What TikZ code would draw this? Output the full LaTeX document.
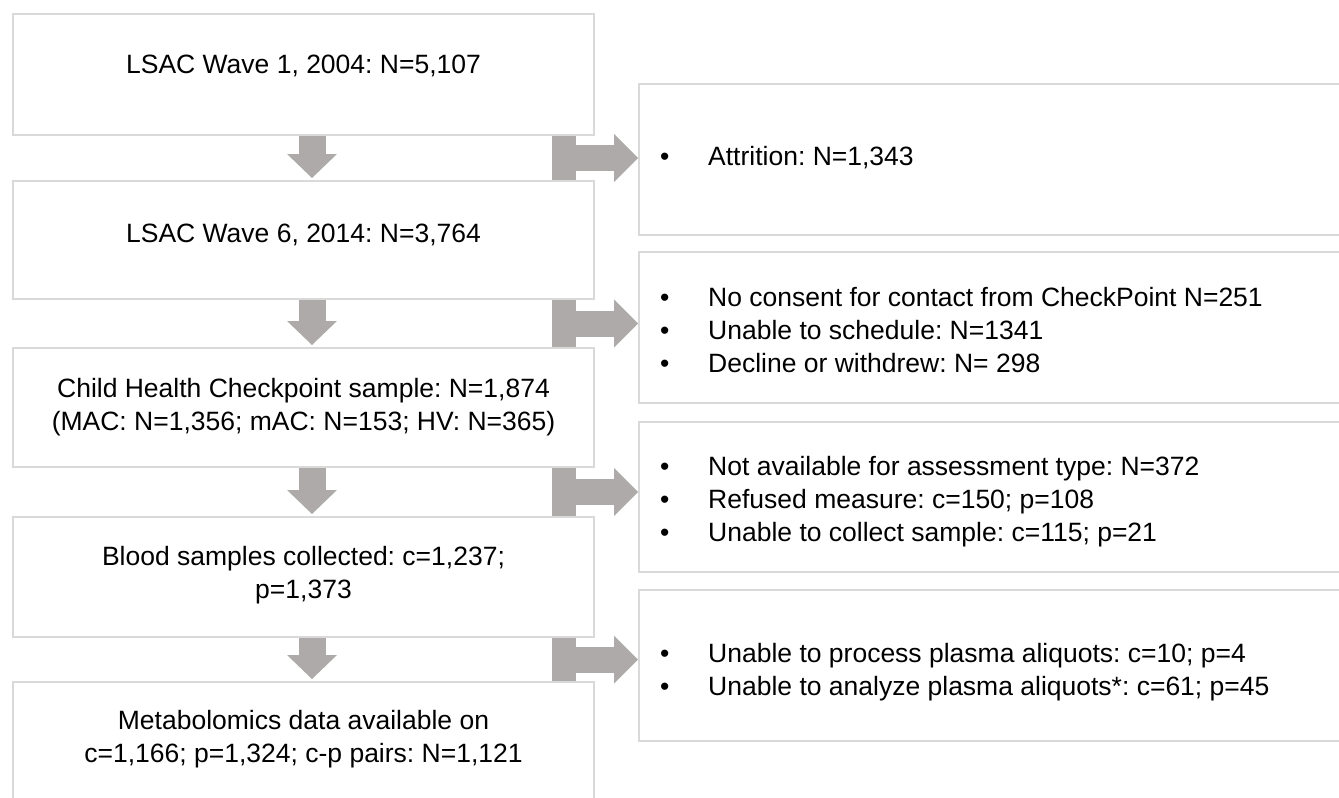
\documentclass[tikz,border=0pt]{standalone}
\usepackage{fontspec}
\setmainfont{Liberation Sans}
\usetikzlibrary{arrows.meta, calc}
\frenchspacing

\definecolor{boxline}{HTML}{D9D9D9}
\definecolor{arrowgray}{HTML}{AEAAAA}

\tikzset{
    stagebox/.style={draw=boxline, line width=2pt, anchor=north west, inner sep=0pt, minimum width=581pt},
    dropbox/.style={draw=boxline, line width=2pt, anchor=north west, inner sep=0pt, minimum width=722pt},
    stagetext/.style={anchor=base, align=center, inner sep=0pt, font=\fontsize{26.5}{32.5}\selectfont},
    droptext/.style={anchor=base west, align=left, inner sep=0pt, font=\fontsize{26.5}{33}\selectfont},
    downarrow/.style={arrowgray, line width=27pt, shorten >=2pt,
        -{Triangle[width=50pt, length=24pt, line width=0pt]}},
    sidebar/.style={arrowgray, line width=24pt},
    sidearrow/.style={arrowgray, line width=26pt,
        -{Triangle[width=48pt, length=24pt, line width=0pt]}},
}
\newcommand{\dropitem}{\makebox[48pt][l]{\textbullet}}

\begin{document}
\begin{tikzpicture}[x=1pt, y=-1pt]
        \useasboundingbox (0,0) rectangle (1339,798);
        \clip (0,0) rectangle (1339,798);

        % --- 1. Stages (left column) ---
        \node[stagebox, minimum height=121pt] (wA) at (12,13) {};
        \node[stagebox, minimum height=118pt] (wB) at (12,180) {};
        \node[stagebox, minimum height=119pt] (wC) at (12,347) {};
        \node[stagebox, minimum height=120pt] (wD) at (12,516) {};
        \node[stagebox, minimum height=130pt] (wE) at (12,681) {};

        % base of a two-line node = baseline of its last line
        \node[stagetext] (tA) at ([yshift=-60pt]wA.north) {LSAC Wave 1, 2004: N=5,107};
        \node[stagetext] (tB) at ([yshift=-62pt]wB.north) {LSAC Wave 6, 2014: N=3,764};
        \node[stagetext] (tC) at ([yshift=-83pt]wC.north) {Child Health Checkpoint sample: N=1,874\\(MAC: N=1,356; mAC: N=153; HV: N=365)};
        \node[stagetext] (tD) at ([yshift=-82pt]wD.north) {Blood samples collected: c=1,237;\\p=1,373};
        \node[stagetext] (tE) at ([yshift=-81pt]wE.north) {Metabolomics data available on\\c=1,166; p=1,324; c-p pairs: N=1,121};

        % --- 2. Exclusions (right column) ---
        \node[dropbox, minimum height=151pt] (rA) at (638,83) {};
        \node[dropbox, minimum height=151pt] (rB) at (638,251) {};
        \node[dropbox, minimum height=150pt] (rC) at (638,421) {};
        \node[dropbox, minimum height=151pt] (rD) at (638,589) {};

        \node[droptext] (xA) at ([xshift=22pt, yshift=-82pt]rA.north west) {\dropitem Attrition: N=1,343};
        \node[droptext] (xB) at ([xshift=22pt, yshift=-121pt]rB.north west) {\dropitem No consent for contact from CheckPoint N=251\\
            \dropitem Unable to schedule: N=1341\\
            \dropitem Decline or withdrew: N= 298};
        \node[droptext] (xC) at ([xshift=22pt, yshift=-120pt]rC.north west) {\dropitem Not available for assessment type: N=372\\
            \dropitem Refused measure: c=150; p=108\\
            \dropitem Unable to collect sample: c=115; p=21};
        \node[droptext] (xD) at ([xshift=22pt, yshift=-106pt]rD.north west) {\dropitem Unable to process plasma aliquots: c=10; p=4\\
            \dropitem Unable to analyze plasma aliquots*: c=61; p=45};

        % --- 3. Block arrows ---
        \foreach \u/\v/\r in {wA/wB/rA, wB/wC/rB, wC/wD/rC, wD/wE/rD} {
            \draw[downarrow] ([xshift=8.5pt]\u.south) -- ([xshift=8.5pt]\v.north);
            \draw[sidebar] ([xshift=-31pt]\u.south east) -- ([xshift=-31pt]\v.north east);
            \coordinate (g\u) at ($([xshift=-31pt]\u.south east)!0.5!([xshift=-31pt]\v.north east)$);
            \draw[sidearrow] (g\u) -- (g\u -| \r.west);
        }

    \end{tikzpicture}
\end{document}
